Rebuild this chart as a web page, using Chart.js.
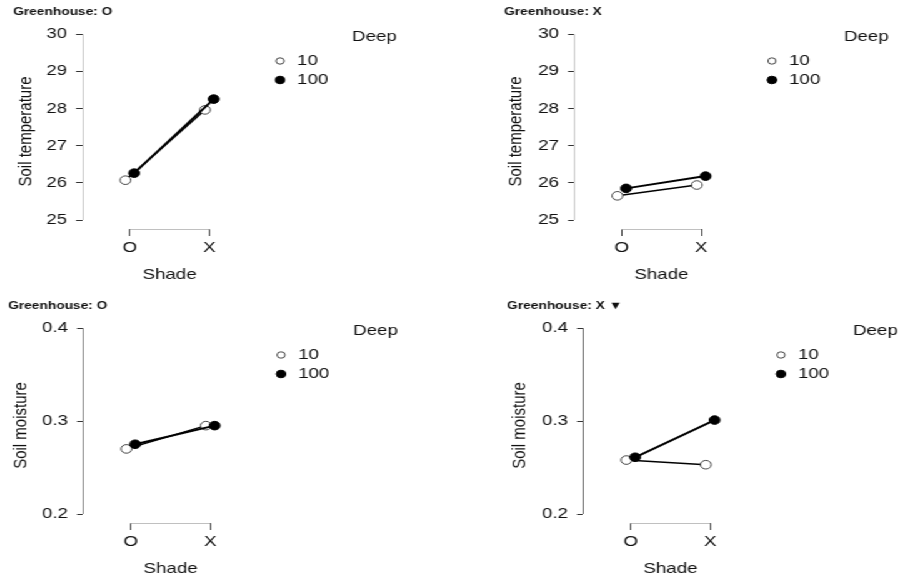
<!DOCTYPE html>
<html>
<head>
<meta charset="utf-8">
<script src="https://cdn.jsdelivr.net/npm/chart.js@4.4.1/dist/chart.umd.min.js"></script>
<style>
  html, body { margin: 0; padding: 0; background: #fff; overflow: hidden; }
  /* the reference is stretched horizontally, so draw narrow and widen */
  #stage { position: relative; width: 720px; height: 584px; transform: scaleX(1.25); transform-origin: 0 0; }
  #stage canvas { position: absolute; }
</style>
</head>
<body>
<div id="stage">
  <canvas id="p1" width="360" height="290" style="left:0;top:0"></canvas>
  <canvas id="p2" width="360" height="290" style="left:360px;top:0"></canvas>
  <canvas id="p3" width="360" height="290" style="left:0;top:294px"></canvas>
  <canvas id="p4" width="360" height="290" style="left:360px;top:294px"></canvas>
</div>
<script>
// data
const shadeLevels = ['O', 'X'];
const deepLevels = ['10', '100'];
const tempTicks = [25, 26, 27, 28, 29, 30];
const moistTicks = [0.2, 0.3, 0.4];

const tempGhO10 = [26.07, 27.96];
const tempGhO100 = [26.26, 28.25];
const tempGhX10 = [25.65, 25.94];
const tempGhX100 = [25.85, 26.18];
const moistGhO10 = [0.270, 0.295];
const moistGhO100 = [0.275, 0.295];
const moistGhX10 = [0.258, 0.253];
const moistGhX100 = [0.261, 0.301];

const S = 1.25;          // horizontal stretch
const FONT = "'Liberation Sans', Arial, sans-serif";
const TEXT = '#111';

// small horizontal dodge so the two Deep levels don't sit on top of each other
const dodge = [-0.055, 0.055];

function makeData(series) {
    return series.map((vals, i) => ({
        label: deepLevels[i],
        data: vals.map((v, k) => ({ x: k + 1 + dodge[i], y: v })),
        borderColor: '#000',
        borderWidth: i === 0 ? 1.5 : 2,
        pointRadius: 4.3,
        pointHoverRadius: 4.3,
        pointBorderWidth: 1,
        pointBorderColor: i === 0 ? '#444' : '#000',
        pointBackgroundColor: i === 0 ? '#fff' : '#000',
        order: i === 0 ? 1 : 0
    }));
}

// R style axes: lines only between first and last tick
const axisLines = {
    id: 'axisLines',
    afterDraw(chart) {
        const { ctx, chartArea, scales } = chart;
        const o = chart.options.plugins.axisLines;
        const yt = o.ticks;
        ctx.save();
        ctx.lineWidth = 1;
        ctx.strokeStyle = o.yColor;
        const lx = Math.round(chartArea.left) + 0.5;
        ctx.beginPath();
        ctx.moveTo(lx, scales.y.getPixelForValue(yt[0]));
        ctx.lineTo(lx, scales.y.getPixelForValue(yt[yt.length - 1]));
        ctx.stroke();
        ctx.strokeStyle = '#c0c0c0';
        const by = Math.round(chartArea.bottom) + 0.5;
        ctx.beginPath();
        ctx.moveTo(scales.x.getPixelForValue(1), by);
        ctx.lineTo(scales.x.getPixelForValue(shadeLevels.length), by);
        ctx.stroke();
        ctx.restore();
    }
};

// legend to the right of the plot
const deepLegend = {
    id: 'deepLegend',
    afterDraw(chart) {
        const { ctx, chartArea } = chart;
        const left = chartArea.left;
        ctx.save();
        ctx.font = '15px ' + FONT;
        ctx.fillStyle = TEXT;
        ctx.textBaseline = 'middle';
        ctx.textAlign = 'left';
        ctx.fillText('Deep', left + 270 / S, 37);
        chart.data.datasets.forEach((ds, i) => {
            const y = 61 + i * 19;
            ctx.beginPath();
            ctx.arc(left + 198 / S, y, i === 0 ? 3.2 : 3.8, 0, Math.PI * 2);
            ctx.fillStyle = ds.pointBackgroundColor;
            ctx.fill();
            ctx.lineWidth = 1;
            ctx.strokeStyle = ds.pointBorderColor;
            ctx.stroke();
            ctx.fillStyle = TEXT;
            ctx.fillText(ds.label, left + 215 / S, y);
        });
        ctx.restore();
    }
};

function makePanel(id, g) {
    const yTicks = g.ticks;
    const span = yTicks[yTicks.length - 1] - yTicks[0];
    const W = 360;
    new Chart(document.getElementById(id), {
        type: 'line',
        data: { datasets: makeData(g.series) },
        options: {
            responsive: false,
            animation: false,
            devicePixelRatio: 1,
            layout: {
                padding: { left: g.titleX / S, top: 0, right: W - (g.axisX + 175) / S, bottom: 0 }
            },
            plugins: {
                legend: { display: false },
                tooltip: { enabled: false },
                title: {
                    display: true,
                    text: g.title,
                    align: 'start',
                    color: TEXT,
                    font: { family: FONT + ", 'DejaVu Sans'", size: 11, weight: 'bold' },
                    padding: { top: 5.4, bottom: 15.4 }
                },
                axisLines: { ticks: yTicks, yColor: g.yColor }
            },
            scales: {
                x: {
                    type: 'linear',
                    min: 0.4,
                    max: 2.6,
                    afterBuildTicks: s => { s.ticks = shadeLevels.map((l, k) => ({ value: k + 1 })); },
                    afterFit: s => { s.height = 61; },
                    ticks: {
                        callback: v => shadeLevels[v - 1],
                        autoSkip: false,
                        maxRotation: 0,
                        padding: 3,
                        color: TEXT,
                        font: { family: FONT, size: 15 }
                    },
                    grid: { drawOnChartArea: false, tickLength: 7, color: '#444' },
                    border: { display: false },
                    title: {
                        display: true,
                        text: 'Shade',
                        color: TEXT,
                        font: { family: FONT, size: 15 },
                        padding: { top: 0, bottom: 6 }
                    }
                },
                y: {
                    min: yTicks[0] - span * 9 / 186,
                    max: yTicks[yTicks.length - 1],
                    afterBuildTicks: s => { s.ticks = yTicks.map(v => ({ value: v })); },
                    afterFit: s => { s.width = (g.axisX - g.titleX) / S; },
                    ticks: {
                        callback: v => String(v),
                        padding: 7.2,
                        color: TEXT,
                        font: { family: FONT, size: 15 }
                    },
                    grid: { drawOnChartArea: false, tickLength: 4.8, color: '#333' },
                    border: { display: false },
                    title: {
                        display: true,
                        text: g.yTitle,
                        color: TEXT,
                        font: { family: FONT, size: 15 },
                        padding: { top: Math.max(0, (g.yTitleX - g.titleX) / S - 9), bottom: 0 }
                    }
                }
            }
        },
        plugins: [axisLines, deepLegend]
    });
}

makePanel('p1', { title: 'Greenhouse: O', titleX: 13, axisX: 82, yTitleX: 26, yColor: '#c8c8c8',
    ticks: tempTicks, yTitle: 'Soil temperature', series: [tempGhO10, tempGhO100] });
makePanel('p2', { title: 'Greenhouse: X', titleX: 54, axisX: 124, yTitleX: 66, yColor: '#c8c8c8',
    ticks: tempTicks, yTitle: 'Soil temperature', series: [tempGhX10, tempGhX100] });
makePanel('p3', { title: 'Greenhouse: O', titleX: 8, axisX: 83, yTitleX: 21, yColor: '#888',
    ticks: moistTicks, yTitle: 'Soil moisture', series: [moistGhO10, moistGhO100] });
makePanel('p4', { title: 'Greenhouse: X \u25BC', titleX: 57, axisX: 133, yTitleX: 70, yColor: '#666',
    ticks: moistTicks, yTitle: 'Soil moisture', series: [moistGhX10, moistGhX100] });
</script>
</body>
</html>
